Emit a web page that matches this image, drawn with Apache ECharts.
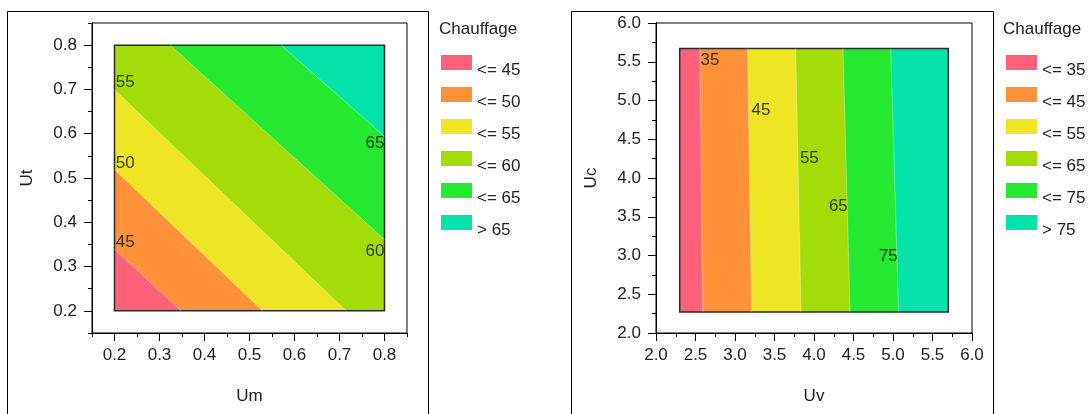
<!DOCTYPE html>
<html><head><meta charset="utf-8">
<script src="https://cdn.jsdelivr.net/npm/echarts@6/dist/echarts.min.js"></script>
<style>html,body{margin:0;padding:0;background:#fff}#c{width:1090px;height:414px}</style>
</head><body><div id="c"></div>
<script>
// ---------------- data ----------------
const bandColors = ['#FF607A', '#FF9138', '#EEE524', '#A3DC08', '#25E830', '#05E3AA'];
const legendTitle = 'Chauffage';

// Left chart : Chauffage = f(Um, Ut)
const leftXName = 'Um';
const leftYName = 'Ut';
const leftLegend = ['<= 45', '<= 50', '<= 55', '<= 60', '<= 65', '> 65'];
const leftDomainX = [0.2, 0.8];
const leftDomainY = [0.2, 0.8];
// contour lines (levels 45, 50, 55, 60, 65), points [Um, Ut]
const leftContours = [
  [[0.2, 0.339], [0.348, 0.2]],
  [[0.2, 0.519], [0.529, 0.2]],
  [[0.2, 0.699], [0.715, 0.2]],
  [[0.324, 0.8], [0.8, 0.361]],
  [[0.570, 0.8], [0.8, 0.594]]
];
const leftLabels = [[0.224, 0.354, '45'], [0.224, 0.534, '50'], [0.224, 0.715, '55'], [0.779, 0.335, '60'], [0.779, 0.578, '65']];
const leftTicks = [0.2, 0.3, 0.4, 0.5, 0.6, 0.7, 0.8];
const leftMinorTicks = [0.15, 0.25, 0.35, 0.45, 0.55, 0.65, 0.75, 0.85];
const leftAxisRange = [0.15, 0.85];

// Right chart : Chauffage = f(Uv, Uc)
const rightXName = 'Uv';
const rightYName = 'Uc';
const rightLegend = ['<= 35', '<= 45', '<= 55', '<= 65', '<= 75', '> 75'];
const rightDomainX = [2.3, 5.7];
const rightDomainY = [2.27, 5.67];
// contour lines (levels 35, 45, 55, 65, 75), points [Uv, Uc]
const rightContours = [
  [[2.557, 5.67], [2.59, 2.27]],
  [[3.16, 5.67], [3.21, 2.27]],
  [[3.768, 5.67], [3.835, 2.27]],
  [[4.367, 5.67], [4.456, 2.27]],
  [[4.971, 5.67], [5.07, 2.27]]
];
const rightLabels = [[2.684, 5.513, '35'], [3.329, 4.868, '45'], [3.941, 4.254, '55'], [4.308, 3.63, '65'], [4.941, 2.985, '75']];
const rightTicks = [2.0, 2.5, 3.0, 3.5, 4.0, 4.5, 5.0, 5.5, 6.0];
const rightMinorTicks = [2.25, 2.75, 3.25, 3.75, 4.25, 4.75, 5.25, 5.75];
const rightAxisRange = [2.0, 6.0];

// ---------------- chart ----------------
const FONT = '"Liberation Sans", Arial, sans-serif';
const TXT = '#1c1c2a';
const chart = echarts.init(document.getElementById('c'), null, {renderer: 'canvas'});

function regionRenderer(domX, domY, line, refCorner) {
  return function (params, api) {
    if (params.dataIndex !== 0) return;
    const corners = [[domX[0], domY[0]], [domX[1], domY[0]], [domX[1], domY[1]], [domX[0], domY[1]]];
    let pts;
    if (!line) {
      pts = corners;
    } else {
      const p0 = line[0], p1 = line[line.length - 1];
      const side = c => Math.sign((p1[0] - p0[0]) * (c[1] - p0[1]) - (p1[1] - p0[1]) * (c[0] - p0[0]));
      const s = side(refCorner);
      pts = line.concat(corners.filter(c => side(c) === s));
    }
    const px = pts.map(p => api.coord(p));
    let cx = 0, cy = 0;
    px.forEach(p => { cx += p[0]; cy += p[1]; });
    cx /= px.length; cy /= px.length;
    px.sort((a, b) => Math.atan2(a[1] - cy, a[0] - cx) - Math.atan2(b[1] - cy, b[0] - cx));
    return {type: 'polygon', shape: {points: px}, style: {fill: api.visual('color')}};
  };
}

function borderRenderer(domX, domY) {
  return function (params, api) {
    if (params.dataIndex !== 0) return;
    const a = api.coord([domX[0], domY[1]]);
    const b = api.coord([domX[1], domY[0]]);
    return {type: 'rect', shape: {x: a[0], y: a[1], width: b[0] - a[0], height: b[1] - a[1]},
      style: {fill: 'none', stroke: '#2a2a2a', lineWidth: 1.5}};
  };
}

function buildSeries(prefix, legendNames, domX, domY, contours, labels, axisIdx) {
  const out = [];
  const ref = [domX[0], domY[0]];
  // paint from highest band (full rect) down to lowest
  for (let i = legendNames.length - 1; i >= 0; i--) {
    const line = i < contours.length ? contours[i] : null;
    out.push({
      type: 'custom', name: prefix + legendNames[i],
      xAxisIndex: axisIdx, yAxisIndex: axisIdx,
      color: bandColors[i], itemStyle: {color: bandColors[i]},
      renderItem: regionRenderer(domX, domY, line, ref),
      data: [[domX[0], domY[0]]], silent: true, animation: false
    });
  }
  contours.forEach(c => out.push({
    type: 'line', xAxisIndex: axisIdx, yAxisIndex: axisIdx, data: c,
    showSymbol: false, symbol: 'none', silent: true, animation: false,
    lineStyle: {color: 'rgba(255,255,255,0.35)', width: 1}
  }));
  out.push({
    type: 'custom', xAxisIndex: axisIdx, yAxisIndex: axisIdx,
    renderItem: borderRenderer(domX, domY), data: [[domX[0], domY[0]]], silent: true, animation: false
  });
  out.push({
    type: 'scatter', xAxisIndex: axisIdx, yAxisIndex: axisIdx, data: labels,
    symbolSize: 0, silent: true, animation: false,
    label: {show: true, position: 'inside', formatter: p => p.value[2], color: '#111', fontSize: 17, fontFamily: FONT}
  });
  return out;
}

function axesPair(gridIndex, range, ticks, minor, name, isX) {
  const base = {
    type: 'value', gridIndex: gridIndex, min: range[0], max: range[1],
    splitLine: {show: false},
    axisLine: {show: true, onZero: false, lineStyle: {color: '#000', width: 1}}
  };
  const major = Object.assign({}, base, {
    name: name, nameLocation: 'middle', nameGap: isX ? 55 : 56,
    nameTextStyle: {fontSize: 17, color: TXT, fontFamily: FONT},
    axisTick: {show: true, length: 8, lineStyle: {color: '#000'}, customValues: ticks},
    axisLabel: {show: true, customValues: ticks, formatter: v => v.toFixed(1),
      fontSize: 17, color: TXT, fontFamily: FONT, margin: isX ? 14 : 15,
      padding: isX ? 0 : [3, 0, 0, 0]}
  });
  const min = Object.assign({}, base, {
    axisTick: {show: true, length: 4, lineStyle: {color: '#000'}, customValues: minor},
    axisLabel: {show: false}
  });
  if (isX) { major.position = 'bottom'; min.position = 'bottom'; }
  else { major.position = 'left'; min.position = 'left'; }
  return [major, min];
}

const legendCommon = {
  orient: 'vertical', top: 46.5, padding: 0, itemWidth: 31, itemHeight: 15, itemGap: 0,
  icon: 'rect', selectedMode: false,
  formatter: n => '\n' + n.split('|')[1],
  textStyle: {fontSize: 17, lineHeight: 15, color: TXT, fontFamily: FONT}
};

const option = {
  animation: false,
  textStyle: {fontFamily: FONT},
  title: [
    {text: legendTitle, left: 439, top: 21, padding: 0, textStyle: {fontSize: 17, fontWeight: 'normal', color: TXT, fontFamily: FONT}},
    {text: legendTitle, left: 1003, top: 21, padding: 0, textStyle: {fontSize: 17, fontWeight: 'normal', color: TXT, fontFamily: FONT}}
  ],
  legend: [
    Object.assign({}, legendCommon, {left: 441, data: leftLegend.map(n => 'L|' + n)}),
    Object.assign({}, legendCommon, {left: 1006, data: rightLegend.map(n => 'R|' + n)})
  ],
  grid: [
    {left: 92, top: 23, width: 315, height: 310, show: true, borderColor: '#000', borderWidth: 1, backgroundColor: 'transparent'},
    {left: 656, top: 23, width: 316, height: 310, show: true, borderColor: '#000', borderWidth: 1, backgroundColor: 'transparent'}
  ],
  xAxis: [].concat(
    axesPair(0, leftAxisRange, leftTicks, leftMinorTicks, leftXName, true),
    axesPair(1, rightAxisRange, rightTicks, rightMinorTicks, rightXName, true)
  ),
  yAxis: [].concat(
    axesPair(0, leftAxisRange, leftTicks, leftMinorTicks, leftYName, false),
    axesPair(1, rightAxisRange, rightTicks, rightMinorTicks, rightYName, false)
  ),
  graphic: [
    {type: 'rect', shape: {x: 7.5, y: 11.5, width: 421, height: 430}, style: {fill: 'none', stroke: '#000', lineWidth: 1}, silent: true},
    {type: 'rect', shape: {x: 571.5, y: 11.5, width: 422, height: 430}, style: {fill: 'none', stroke: '#000', lineWidth: 1}, silent: true}
  ],
  series: [].concat(
    buildSeries('L|', leftLegend, leftDomainX, leftDomainY, leftContours, leftLabels, 0),
    buildSeries('R|', rightLegend, rightDomainX, rightDomainY, rightContours, rightLabels, 2)
  )
};
chart.setOption(option);
</script>
</body></html>
